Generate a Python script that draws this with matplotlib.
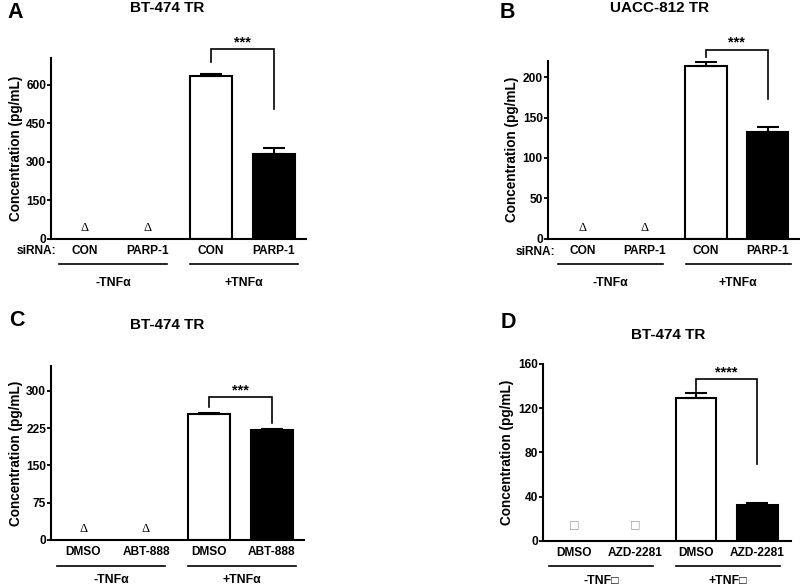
import matplotlib
matplotlib.use("Agg")
import matplotlib.pyplot as plt
from matplotlib.transforms import blended_transform_factory, offset_copy

plt.rcParams['font.family'] = ['Liberation Sans', 'DejaVu Sans']
plt.rcParams['font.weight'] = 'bold'

W, H = 800, 587
fig = plt.figure(figsize=(W / 100, H / 100), dpi=100)

# ---------------- data ----------------
a_title = "BT-474 TR"
a_labels = ["CON", "PARP-1", "CON", "PARP-1"]
a_groups = ["-TNF\u03b1", "+TNF\u03b1"]
a_marker_y = [41, 41]
a_bar_values = [633, 331]
a_bar_err = [11, 22]
a_yticks = [0, 150, 300, 450, 600]
a_ymax = 705
a_stars = "***"
a_bracket = [689, 740, 506]  # left leg bottom, top, right leg bottom

b_title = "UACC-812 TR"
b_labels = ["CON", "PARP-1", "CON", "PARP-1"]
b_groups = ["-TNF\u03b1", "+TNF\u03b1"]
b_marker_y = [13, 13]
b_bar_values = [213.4, 132.4]
b_bar_err = [5.3, 6.2]
b_yticks = [0, 50, 100, 150, 200]
b_ymax = 220
b_stars = "***"
b_bracket = [225, 234, 172.5]

c_title = "BT-474 TR"
c_labels = ["DMSO", "ABT-888", "DMSO", "ABT-888"]
c_groups = ["-TNF\u03b1", "+TNF\u03b1"]
c_marker_y = [23, 23]
c_bar_values = [253.7, 222]
c_bar_err = [2.5, 0.5]
c_yticks = [0, 75, 150, 225, 300]
c_ymax = 350
c_stars = "***"
c_bracket = [268, 287, 235]

d_title = "BT-474 TR"
d_labels = ["DMSO", "AZD-2281", "DMSO", "AZD-2281"]
d_groups = ["-TNF\u25a1", "+TNF\u25a1"]
d_marker_y = [15, 15]
d_bar_values = [129, 32.3]
d_bar_err = [4.7, 1.5]
d_yticks = [0, 40, 80, 120, 160]
d_ymax = 160
d_stars = "****"
d_bracket = [136, 146, 69]

x_pos = [0, 1, 2, 3]


def make_axes(left, right, top, bottom):
    return fig.add_axes([left / W, 1 - bottom / H, (right - left) / W, (bottom - top) / H])


def panel(ax, xlim, labels, groups, marker_y, marker_char, marker_kw,
          vals, errs, yticks, ymax, stars, bracket, sirna, group_off):
    ax.set_xlim(*xlim)
    ax.set_ylim(0, ymax)
    for s in ['top', 'right']:
        ax.spines[s].set_visible(False)
    for s in ['left', 'bottom']:
        ax.spines[s].set_linewidth(1.5)
    ax.set_yticks(yticks)
    ax.set_yticklabels([str(t) for t in yticks], fontsize=8.6, fontweight='bold')
    ax.tick_params(axis='y', length=3, width=1.3, pad=0.5)
    ax.set_xticks(x_pos)
    ax.set_xticklabels(labels, fontsize=8.6, fontweight='bold')
    ax.tick_params(axis='x', length=0, pad=4.5)
    ax.set_ylabel("Concentration (pg/mL)", fontsize=9.8, fontweight='bold', labelpad=2.5)

    # markers for -TNF groups
    for xi, yi in zip(x_pos[:2], marker_y):
        ax.text(xi, yi, marker_char, ha='center', va='center', **marker_kw)

    # bars
    ax.bar(x_pos[2:], vals, width=0.67, color=['white', 'black'],
           edgecolor='black', linewidth=1.5, zorder=2)
    ax.errorbar(x_pos[2:], vals, yerr=[[0, 0], errs], fmt='none', ecolor='black',
                elinewidth=1.5, capsize=8, capthick=1.5, zorder=3)

    # significance bracket
    lb, top, rb = bracket
    ax.plot([2, 2, 3, 3], [lb, top, top, rb], color='black', lw=1.2,
            clip_on=False, solid_joinstyle='miter')
    ax.text(2.5, top, stars, ha='center', va='bottom', fontsize=10.5,
            fontweight='bold')

    # group lines and labels
    base = blended_transform_factory(ax.transData, ax.transAxes)
    line_tr = offset_copy(base, fig=fig, x=0, y=-25.5, units='dots')
    text_tr = offset_copy(base, fig=fig, x=0, y=-group_off, units='dots')
    ax.plot([-0.41, 1.30], [0, 0], color='black', lw=1.2, transform=line_tr, clip_on=False)
    ax.plot([1.67, 3.38], [0, 0], color='black', lw=1.2, transform=line_tr, clip_on=False)
    ax.text(0.45, 0, groups[0], ha='center', va='center', fontsize=8.8,
            fontweight='bold', transform=text_tr)
    ax.text(2.52, 0, groups[1], ha='center', va='center', fontsize=8.8,
            fontweight='bold', transform=text_tr)

    if sirna:
        lab_tr = offset_copy(base, fig=fig, x=0, y=-13, units='dots')
        ax.text(-0.45, 0, "siRNA:", ha='right', va='center', fontsize=8.6,
                fontweight='bold', transform=lab_tr)


delta_kw = dict(fontsize=9, family='Liberation Serif', fontweight='normal')
box_kw = dict(fontsize=8, family='DejaVu Sans', fontweight='normal', color='#9a9a9a')

axA = make_axes(51, 306, 58, 238.5)
panel(axA, (-0.54, 3.51), a_labels, a_groups, a_marker_y, "\u0394", delta_kw,
      a_bar_values, a_bar_err, a_yticks, a_ymax, a_stars, a_bracket, True, 44.5)

axB = make_axes(547.7, 799, 61, 238.7)
panel(axB, (-0.57, 3.51), b_labels, b_groups, b_marker_y, "\u0394", delta_kw,
      b_bar_values, b_bar_err, b_yticks, b_ymax, b_stars, b_bracket, True, 44.5)

axC = make_axes(51, 304, 366, 540)
panel(axC, (-0.51, 3.51), c_labels, c_groups, c_marker_y, "\u0394", delta_kw,
      c_bar_values, c_bar_err, c_yticks, c_ymax, c_stars, c_bracket, False, 40)

axD = make_axes(542.7, 790.7, 364, 540.7)
panel(axD, (-0.51, 3.55), d_labels, d_groups, d_marker_y, "\u25a1", box_kw,
      d_bar_values, d_bar_err, d_yticks, d_ymax, d_stars, d_bracket, False, 40)

# titles and panel letters (figure pixel coords)
def ftext(x, y, s, size):
    fig.text(x / W, 1 - y / H, s, ha='center', va='center', fontsize=size,
             fontweight='bold')

ftext(15, 12, "A", 15.5)
ftext(167.5, 8, a_title, 11)
ftext(507, 13, "B", 15.5)
ftext(660, 8, b_title, 11)
ftext(17, 320, "C", 15.5)
ftext(167, 325, c_title, 11)
ftext(508, 323, "D", 15.5)
ftext(668, 335, d_title, 11)

fig.savefig("out.png", dpi=100)
